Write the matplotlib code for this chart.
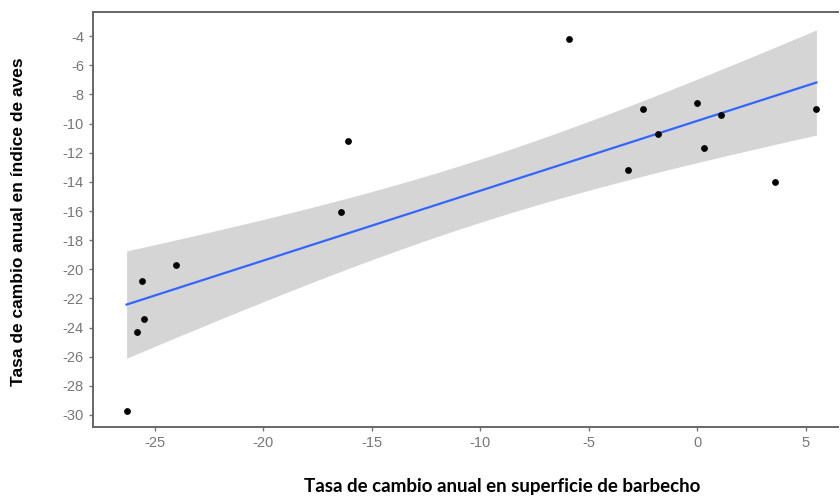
import numpy as np
import matplotlib
matplotlib.use("Agg")
import matplotlib.pyplot as plt

plt.rcParams['axes.unicode_minus'] = False

# superficie de barbecho (x) vs indice de aves (y)
barbecho = [-26.3, -25.8, -25.5, -25.6, -24.0, -16.4, -16.1, -5.9,
            -2.5, 0.0, 1.1, -1.8, 0.3, -3.2, 3.6, 5.5]
aves = [-29.7, -24.3, -23.4, -20.8, -19.7, -16.1, -11.2, -4.2,
        -9.0, -8.6, -9.4, -10.7, -11.7, -13.2, -14.0, -9.0]

xticks = [-25, -20, -15, -10, -5, 0, 5]
yticks = [-4, -6, -8, -10, -12, -14, -16, -18, -20, -22, -24, -26, -28, -30]

x = np.array(barbecho)
y = np.array(aves)
n = len(x)

# ajuste lineal y banda de confianza 95%
b, a = np.polyfit(x, y, 1)
resid = y - (a + b * x)
s = np.sqrt(np.sum(resid ** 2) / (n - 2))
t = 2.145  # t(0.975, 14)
xs = np.linspace(x.min(), x.max(), 100)
ys = a + b * xs
se = s * np.sqrt(1 / n + (xs - x.mean()) ** 2 / np.sum((x - x.mean()) ** 2))

fig = plt.figure(figsize=(8.4, 4.97), dpi=100)
ax = fig.add_axes([0.1107, 0.1408, 0.887, 0.835])

ax.fill_between(xs, ys - t * se, ys + t * se, color='#d5d5d5', lw=0, zorder=1)
ax.plot(xs, ys, color='#3366ff', lw=1.6, zorder=2)
ax.scatter(x, y, s=15, color='black', zorder=3)

ax.set_xlim(-27.85, 6.5)
ax.set_ylim(-30.83, -2.34)
ax.set_xticks(xticks)
ax.set_yticks(yticks)
ax.tick_params(colors='#777777', labelcolor='#777777', labelsize=10.5, length=3, width=1)
for lab in ax.get_xticklabels() + ax.get_yticklabels():
    lab.set_family('Liberation Sans')

for side in ['left', 'bottom', 'top']:
    ax.spines[side].set_color('#666666')
    ax.spines[side].set_linewidth(1.4)
ax.spines['right'].set_visible(False)

fig.text(0.022, 0.553, 'Tasa de cambio anual en índice de aves', rotation=90,
         ha='center', va='center', fontsize=12.5, fontweight='bold',
         family='Liberation Sans')
fig.text(0.598, 0.022, 'Tasa de cambio anual en superficie de barbecho',
         ha='center', va='center', fontsize=13.5, fontweight='bold', family='Lato')

fig.savefig('out.png', dpi=100)
